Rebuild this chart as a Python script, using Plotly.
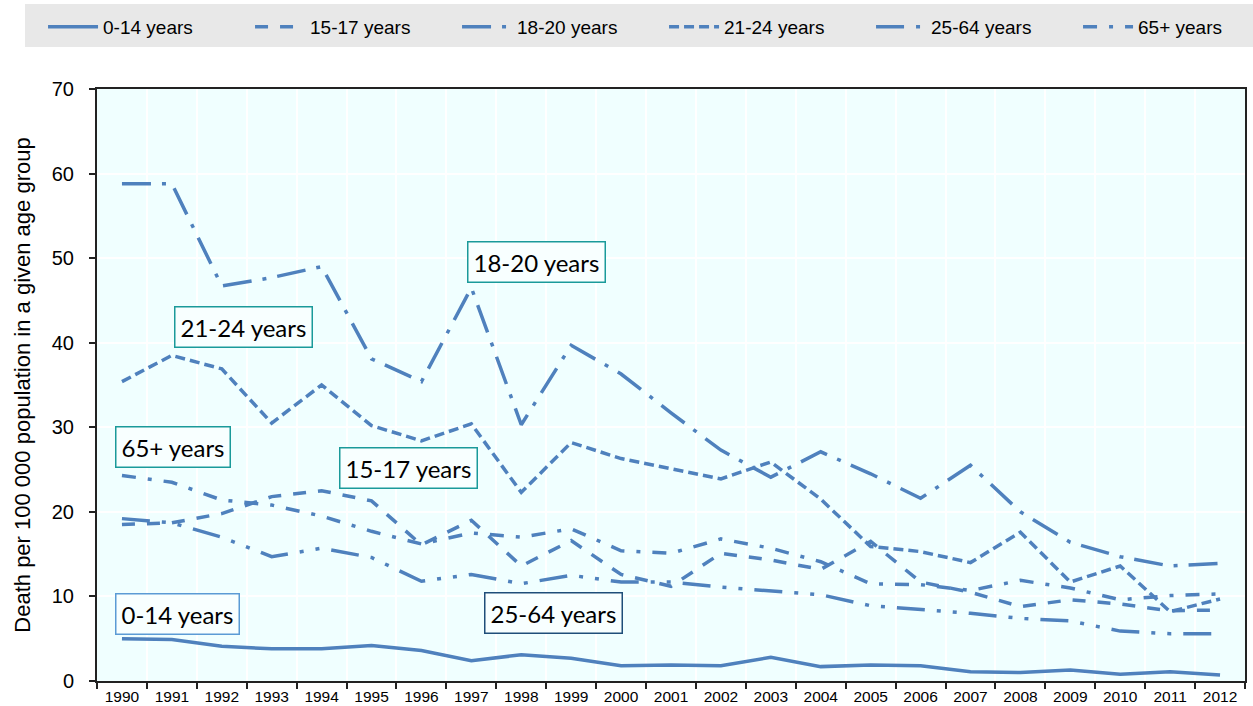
import plotly.graph_objects as go

years = [str(y) for y in range(1990, 2013)]

age_0_14 = [5.0, 4.9, 4.1, 3.8, 3.8, 4.2, 3.6, 2.4, 3.1, 2.7, 1.8, 1.9, 1.8, 2.8, 1.7, 1.9, 1.8, 1.1, 1.0, 1.3, 0.8, 1.1, 0.7]
age_15_17 = [18.5, 18.7, 19.8, 21.8, 22.5, 21.3, 16.1, 19.0, 13.6, 16.6, 12.6, 11.2, 15.1, 14.3, 13.2, 16.5, 11.7, 10.5, 8.8, 9.6, 9.1, 8.3, 8.4]
age_18_20 = [58.8, 58.8, 46.7, 47.7, 49.0, 38.1, 35.4, 46.5, 30.3, 39.7, 36.3, 31.7, 27.3, 24.1, 27.1, 24.5, 21.6, 25.5, 20.0, 16.4, 14.7, 13.6, 13.9]
age_21_24 = [35.4, 38.5, 36.9, 30.5, 35.0, 30.2, 28.4, 30.4, 22.3, 28.2, 26.3, 25.1, 23.9, 25.9, 21.5, 15.9, 15.3, 14.0, 17.6, 11.7, 13.6, 8.2, 9.7]
age_25_64 = [19.2, 18.7, 17.0, 14.7, 15.7, 14.6, 11.8, 12.6, 11.5, 12.5, 11.7, 11.7, 11.1, 10.6, 10.2, 8.9, 8.5, 8.0, 7.4, 7.1, 5.9, 5.6, 5.6]
age_65_plus = [24.3, 23.5, 21.4, 20.8, 19.5, 17.7, 16.2, 17.5, 17.0, 18.0, 15.4, 15.1, 16.8, 15.7, 14.1, 11.5, 11.4, 10.7, 11.9, 11.0, 9.6, 10.1, 10.3]

series_names = ["0-14 years", "15-17 years", "18-20 years", "21-24 years", "25-64 years", "65+ years"]
series_values = [age_0_14, age_15_17, age_18_20, age_21_24, age_25_64, age_65_plus]
series_dash = ["solid", "13px,12px", "29px,11px,4px,11px", "10px,5px",
               "28px,12px,4px,12px,4px,12px", "14px,12px,4px,12px"]

LINE = "#4F81BD"
SANS = "Liberation Sans, Arial, sans-serif"
BOXFONT = "Lato, Carlito, Calibri, sans-serif"

fig = go.Figure()
for name, vals, dash in zip(series_names, series_values, series_dash):
    fig.add_trace(go.Scatter(x=years, y=vals, name=name, mode="lines",
                             line=dict(color=LINE, width=3.5, dash=dash)))

# annotation boxes
labels = [
    ("18-20 years", 8.30, 49.6, "#1A9A9A"),
    ("21-24 years", 2.44, 41.8, "#1A9A9A"),
    ("65+ years", 1.02, 27.7, "#1A9A9A"),
    ("15-17 years", 5.75, 25.2, "#1A9A9A"),
    ("0-14 years", 1.12, 7.9, "#5B9BD5"),
    ("25-64 years", 8.64, 8.1, "#1F4E79"),
]
for text, xi, yv, bc in labels:
    fig.add_annotation(x=xi, y=yv, xref="x", yref="y", text=text, showarrow=False,
                       font=dict(family=BOXFONT, size=24, color="black"),
                       bordercolor=bc, borderwidth=1.5, borderpad=5, bgcolor="#F8FFFF")

# legend band
fig.add_shape(type="rect", xref="paper", yref="paper",
              x0=-0.0627, x1=1.01, y0=1.071, y1=1.1436,
              fillcolor="#E8E8E8", line=dict(width=0), layer="below")

fig.update_layout(
    width=1253, height=706,
    margin=dict(l=97, r=8, t=89, b=25, autoexpand=False),
    paper_bgcolor="white",
    plot_bgcolor="#F0FFFF",
    font=dict(family=SANS, color="black"),
    showlegend=True,
    legend=dict(orientation="h", x=-0.047, xanchor="left", y=1.105, yanchor="middle",
                bgcolor="rgba(0,0,0,0)", font=dict(family=SANS, size=19),
                entrywidth=142, entrywidthmode="pixels", itemwidth=50),
    xaxis=dict(type="category", range=[-0.5, 22.5], tickson="boundaries", showgrid=True,
               gridcolor="white", gridwidth=1.5, showline=True, linecolor="#222",
               linewidth=2, mirror=True,
               ticks="outside", ticklen=6, tickcolor="#222", tickwidth=1.5,
               tickfont=dict(family=SANS, size=15.5), zeroline=False, automargin=False),
    yaxis=dict(range=[0, 70], dtick=10, showgrid=True, gridcolor="white", gridwidth=1.5,
               showline=True, linecolor="#222", linewidth=2, mirror=True,
               ticks="outside", ticklen=6, tickcolor="#222", tickwidth=1.5,
               tickfont=dict(family=SANS, size=20), zeroline=False, automargin=False,
               ticklabelstandoff=11,
               title=dict(text="Death per 100 000 population in a given age group",
                          font=dict(family=SANS, size=22), standoff=15)),
)

fig.write_html("out.html", config={"displayModeBar": False},
               post_script="document.body.style.margin='0';")
